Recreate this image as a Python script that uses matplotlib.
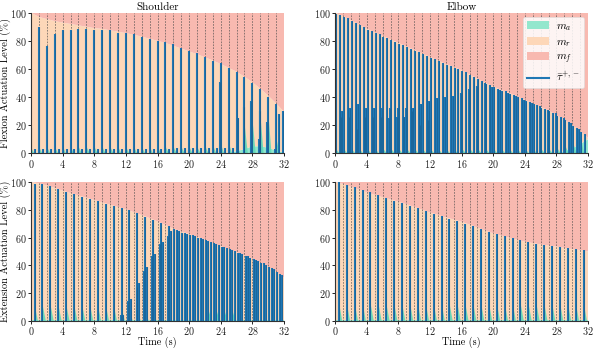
import numpy as np
import matplotlib
matplotlib.use("Agg")
import matplotlib.pyplot as plt
from matplotlib.lines import Line2D

plt.rcParams['font.family'] = ['cmr10', 'DejaVu Serif']
plt.rcParams['mathtext.fontset'] = 'cm'
plt.rcParams['axes.formatter.use_mathtext'] = True
plt.rcParams['axes.unicode_minus'] = False

# ---------------- data ----------------
time_s = list(range(33))

# envelope (m_a + m_r) at each second
env_sh_flex = [100, 97, 95.5, 94, 93, 92, 91, 90, 89, 88.5, 87.5, 86.5, 85.5, 84.3, 83, 81.5, 80,
               78.5, 76.5, 74.5, 72.5, 70.5, 68.3, 66, 63.5, 60.8, 58, 54.5, 50.5, 46, 41, 35.5, 29.5]
env_el_flex = [100, 97.5, 94.5, 91.5, 88.5, 86, 83.5, 81, 78.5, 76, 73.5, 71, 68.5, 66, 63.5, 61.3, 59,
               56, 53, 50, 47.5, 45, 43, 40.5, 38, 35.5, 33, 30.5, 27, 24, 20, 16, 11]
env_sh_ext = [100, 99, 97.5, 95.7, 93.8, 92, 90.3, 88.7, 87, 85.3, 83.6, 82, 80.3, 78.3, 76.2, 74, 71.6,
              69, 66.3, 64.3, 62.5, 60.5, 58.5, 56, 53.8, 51.5, 49.3, 47, 44.7, 42, 39, 35.5, 31]
env_el_ext = [100, 98.5, 96.5, 94.5, 92.5, 90.7, 89, 87.5, 85.8, 84, 82, 80, 78, 76.3, 74.5, 73, 71.3,
              69.3, 67.2, 65, 63, 61.5, 60, 58.5, 57, 56, 55, 54.2, 53.5, 52.5, 51.7, 51, 50]

# m_a layer of the stack at each second
ma_sh_flex = [0.5] * 26 + [1.5, 3, 5, 5, 4, 2, 0.5]
ma_el_flex = [0.5] * 29 + [1.5, 3.5, 6.5, 10]
ma_sh_ext = [0.5] * 33
ma_el_ext = [0.5] * 33

# --- actuation pulses (time, peak) ---
# Shoulder flexion
shf_main_t = [0, 1, 2, 3, 4, 5, 6, 7, 8, 9, 10, 11, 12, 13, 14, 15, 16, 17, 18, 19, 20, 21, 22, 23,
              24, 25, 26, 27, 28, 29, 30, 31, 31.85]
shf_main_h = [18, 90, 76, 85, 87.5, 88, 88.5, 88.5, 87.5, 88, 87.5, 85.5, 85.5, 84.5, 83, 81.5, 80,
              79, 77.5, 75, 73, 71, 68.5, 66, 64, 60.5, 57.5, 54, 50, 45.5, 40, 35, 30]
shf_extra_t = [23.85, 26.2, 26.9, 27.8, 28.8, 29.0, 29.8, 30.9, 31.4]
shf_extra_h = [51, 25, 33, 37, 10, 30, 22, 3, 28]
shf_low_t = [0.5, 1.5, 2.5, 3.5, 4.5, 5.5, 6.5, 7.5, 8.5, 9.5, 10.5, 11.5, 12.5, 13.5, 14.5, 15.5,
             16.5, 17.5, 18.5, 19.5, 20.5, 21.5, 22.5, 23.5, 24.5, 25.5]
shf_low_h = [3, 3, 3, 3, 3, 3, 3, 3, 3, 3, 3, 3, 3, 3, 3, 3, 3, 3, 3.5, 3.5, 3.5, 3.5, 4, 4, 4, 4]
shf_ma_h = [4, 5, 5, 5, 5, 5, 5, 5, 5, 5, 5, 5, 5, 5, 5, 5, 5, 5, 5, 5, 5, 5, 6, 6, 7, 8, 10, 22,
            25, 28, 30, 12, 4]

# Elbow flexion
elf_a_t = [0.1, 1.1, 2.1, 3.1, 4.1, 5.1, 6.1, 7.1, 8.1, 9.1, 10.1, 11.1, 12.1, 13.1, 14.1, 15.1,
           16.1, 17.1, 18.1, 19.1, 20.1, 21.1, 22.1, 23.1, 24.1, 25.1, 26.1, 27.1, 28.1, 29.1, 30.1, 31.1]
elf_a_h = [99, 97, 94, 91, 88, 85.5, 83, 80.5, 78, 75.5, 73, 70.5, 68, 65.5, 63, 61, 58.5, 55.5,
           52.5, 49.5, 47, 44.5, 42.5, 40, 37.5, 35, 32.5, 30, 26.5, 23.5, 19.5, 15.5]
elf_b_t = [0.6, 1.6, 2.6, 3.6, 4.6, 5.6, 6.6, 7.6, 8.6, 9.6, 10.6, 11.6, 12.6, 13.6, 14.6, 15.6,
           16.6, 17.6, 18.6, 19.6, 20.6, 21.6, 22.6, 23.6, 24.6, 25.6, 26.6, 27.6, 28.6, 29.6, 30.6, 31.6]
elf_b_h = [98.5, 96, 93, 90, 87, 84.5, 82, 79.5, 77, 74.5, 72, 69.5, 67, 64.5, 62, 60, 57.5, 54.5,
           51.5, 48.5, 46, 44, 41.5, 39, 36.5, 34, 31.5, 29, 25.5, 22, 18, 13.5]
elf_m_t = [0.9, 1.9, 2.9, 3.9, 4.9, 5.9, 6.9, 7.9, 8.9, 9.9, 10.9, 11.9, 12.9, 13.9, 14.9, 15.9,
           16.9, 17.9, 18.9, 19.9, 20.9, 21.9, 22.9, 23.9, 24.9, 25.9, 26.9, 27.9, 28.9, 29.9, 30.9]
elf_m_h = [30, 32, 35, 32, 32, 32, 32, 32, 32, 32, 35, 37, 39, 40, 41, 43, 46, 48, 50, 47, 45, 43,
           40.5, 38, 36, 33.5, 31, 28.5, 25, 21.5, 17.5]
elf_low_t = [0.0, 0.75, 1.75, 2.75, 3.75, 4.75, 5.75, 6.75, 7.75, 8.75, 9.75, 10.75, 11.75]
elf_low_h = [20, 26, 26, 17, 26, 26, 26, 25, 26, 26, 30, 20, 24]
elf_ma_h = [3] * 28 + [4, 6, 8, 10]

# Shoulder extension
she_main_t = [0.45, 1.45, 2.45, 3.45, 4.45, 5.45, 6.45, 7.45, 8.45, 9.45, 10.45, 11.45, 12.45, 13.45,
              14.45, 15.45, 16.45, 17.45, 18.45, 19.45, 20.45, 21.45, 22.45, 23.45, 24.45, 25.45,
              26.45, 27.45, 28.45, 29.45, 30.45, 31.45]
she_main_h = [98.5, 98.5, 97, 95, 93, 91, 89.5, 88, 86, 84.5, 82.5, 81, 79.5, 77.5, 75, 72.5, 70.5,
              68, 65.5, 63.5, 61.5, 59.5, 57.5, 55, 53, 51, 48.5, 46.5, 44, 41.5, 38, 34]
she_extra_t = [11.35, 11.65, 12.3, 12.65, 13.35, 13.7, 14.3, 14.7, 15.35, 15.7, 16.3, 16.7, 17.3, 17.7,
               18.15, 18.75, 19.15, 19.75, 20.15, 20.75, 21.15, 21.75, 22.15, 22.75, 23.15, 23.75,
               24.15, 24.75, 25.15, 25.75, 26.15, 26.75, 27.15, 27.75, 28.15, 28.75, 29.15, 29.75,
               30.15, 30.75, 31.15, 31.75]
she_extra_h = [4, 4, 14, 16, 24.5, 27, 36, 39, 47, 48, 55, 57, 61, 65,
               66, 64.5, 63.5, 62.5, 62, 61, 60, 59, 58, 57, 56, 54.5, 53.5, 52.5, 51.5, 50, 49,
               48, 47, 45.5, 44.5, 43, 42, 40.5, 39, 37, 35.5, 33]
she_ma_h = [12, 12, 12, 12, 12, 12, 12, 12, 12, 12, 12, 10, 8, 8, 8, 8, 8, 8, 8, 8, 8, 8, 8, 8, 8,
            8, 8, 8, 8, 8, 8, 8]

# Elbow extension
ele_main_t = she_main_t
ele_main_h = [100, 98, 96.5, 94.5, 92.5, 90.5, 88.5, 86.5, 85, 83, 81, 79, 77, 75.5, 73.5, 72, 70,
              68, 66, 64, 62.5, 61, 59.5, 58, 57, 55.5, 54.8, 54, 53, 52.3, 51.6, 50.8]
ele_ma_h = [14, 13, 13, 13, 13, 13, 13, 13, 13, 13, 13, 13, 13, 13, 13, 13, 13, 13, 13, 13, 13, 13,
            13, 13, 13, 13, 13, 13, 13, 13, 13, 13]

# ---------------- styles ----------------
C_MA = '#93e7cd'
C_MR = '#fdd7b8'
C_MF = '#f8b9b0'
C_LINE = '#1f77b4'
W, H = 598, 348

fig = plt.figure(figsize=(W / 100, H / 100), dpi=100)

boxes = {
    'tl': [31 / W, 1 - 153.3 / H, (284 - 31) / W, (153.3 - 12.7) / H],
    'tr': [335.3 / W, 1 - 153.3 / H, (588 - 335.3) / W, (153.3 - 12.7) / H],
    'bl': [31 / W, 1 - 320.8 / H, (284 - 31) / W, (320.8 - 182.0) / H],
    'br': [335.3 / W, 1 - 320.8 / H, (588 - 335.3) / W, (320.8 - 182.0) / H],
}


def panel(key, env, ma, spikes, ma_t, ma_h):
    ax = fig.add_axes(boxes[key])
    env = np.asarray(env, float)
    ma = np.asarray(ma, float)
    mr = env - ma
    mf = 100 - env
    polys = ax.stackplot(time_s, ma, mr, mf, colors=[C_MA, C_MR, C_MF],
                         labels=['$m_a$', '$m_r$', '$m_f$'], linewidth=0, zorder=1)
    for s in range(1, 32):
        ax.axvline(s, color='#4a4a4a', lw=0.55, ls=(0, (2.2, 1.6)), alpha=0.8, zorder=2)
    # teal m_a bursts following each pulse
    for t, h in zip(ma_t, ma_h):
        ax.fill([t, t, t + 0.42], [0, h, 0], color='#5fd9b9', lw=0, alpha=0.9, zorder=3)
    for (ts, hs) in spikes:
        ax.vlines(ts, 0, hs, color=C_LINE, lw=1.5, zorder=4)
        ax.vlines(ts, 0, hs, color='#174f7a', lw=0.5, alpha=0.6, zorder=5)
    ax.set_xlim(0, 32)
    ax.set_ylim(0, 100)
    ax.set_xticks([0, 4, 8, 12, 16, 20, 24, 28, 32])
    ax.set_yticks([0, 20, 40, 60, 80, 100])
    for sp in ['top', 'right']:
        ax.spines[sp].set_visible(False)
    for sp in ['left', 'bottom']:
        ax.spines[sp].set_color('#333333')
        ax.spines[sp].set_linewidth(0.8)
        ax.spines[sp].set_zorder(6)
    ax.tick_params(labelsize=7.3, length=2.5, width=0.7, pad=0.6, colors='#222222')
    return ax, polys


ax1, _ = panel('tl', env_sh_flex, ma_sh_flex,
               [(shf_main_t, shf_main_h), (shf_extra_t, shf_extra_h), (shf_low_t, shf_low_h)],
               shf_main_t, shf_ma_h)
ax2, polys = panel('tr', env_el_flex, ma_el_flex,
                   [(elf_a_t, elf_a_h), (elf_b_t, elf_b_h), (elf_m_t, elf_m_h), (elf_low_t, elf_low_h)],
                   elf_a_t, elf_ma_h)
ax3, _ = panel('bl', env_sh_ext, ma_sh_ext,
               [(she_main_t, she_main_h), (she_extra_t, she_extra_h)],
               she_main_t, she_ma_h)
ax4, _ = panel('br', env_el_ext, ma_el_ext,
               [(ele_main_t, ele_main_h)],
               ele_main_t, ele_ma_h)

ax1.set_title('Shoulder', fontsize=8, pad=2)
ax2.set_title('Elbow', fontsize=8, pad=2)
fig.text(5 / W, 1 - 83 / H, 'Flexion Actuation Level (%)', fontsize=7.5, rotation=90,
         ha='center', va='center')
fig.text(5 / W, 1 - 251 / H, 'Extension Actuation Level (%)', fontsize=7.5, rotation=90,
         ha='center', va='center')
fig.text(157.5 / W, 1 - 342.5 / H, 'Time (s)', fontsize=7.3, ha='center', va='center')
fig.text(461.5 / W, 1 - 342.5 / H, 'Time (s)', fontsize=7.3, ha='center', va='center')

handles = list(polys) + [Line2D([], [], color=C_LINE, lw=1.5)]
labels = ['$m_a$', '$m_r$', '$m_f$', r'$\bar{\tau}^{+,-}$']
leg = ax2.legend(handles, labels, loc='upper right', fontsize=8, framealpha=0.85,
                 borderpad=0.4, labelspacing=0.35, handlelength=2.0, handletextpad=0.6,
                 fancybox=True, bbox_to_anchor=(0.985, 0.97), borderaxespad=0.0)
leg.get_frame().set_linewidth(0.5)
leg.get_frame().set_edgecolor('#dddddd')
leg.set_zorder(10)

fig.savefig('out.png', dpi=100)
